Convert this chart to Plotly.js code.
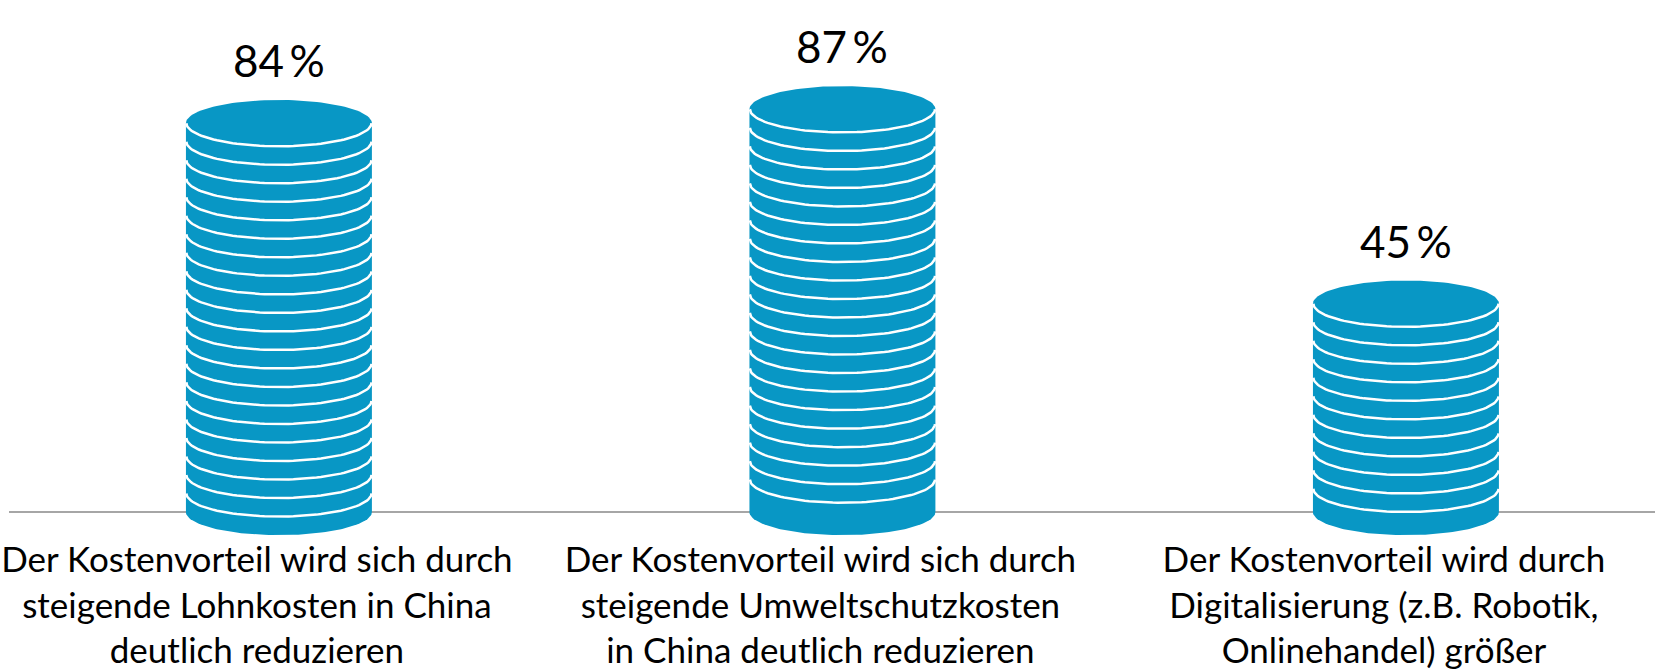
<!DOCTYPE html>
<html>
<head>
<meta charset="utf-8">
<script src="https://cdn.plot.ly/plotly-3.0.1.min.js"></script>
<style>
html, body { margin: 0; padding: 0; background: #fff; }
#chart { width: 1655px; height: 672px; }
</style>
</head>
<body>
<div id="chart"></div>
<script>
// values
const categories = [
  'Der Kostenvorteil wird sich durch<br>steigende Lohnkosten in China<br>deutlich reduzieren',
  'Der Kostenvorteil wird sich durch<br>steigende Umweltschutzkosten<br>in China deutlich reduzieren',
  'Der Kostenvorteil wird durch<br>Digitalisierung (z.B. Robotik,<br>Onlinehandel) größer'
]
const values = [84, 87, 45]
const valueLabels = ['84\u2009%', '87\u2009%', '45\u2009%']

const blue = '#0897c5'
const rx = 0.165      // half width of a stack, in x units
const ry = 5          // half height of an ellipse, in y units
const coin = 4        // thickness of one coin, in y units
const N = 60

const traces = []
values.forEach((v, i) => {
  // body of the stack: upper half of the top face, sides, lower half of the bottom face
  const xs = [], ys = []
  for (let k = 0; k <= N; k++) {
    const t = Math.PI - Math.PI * k / N
    xs.push(i + rx * Math.cos(t)); ys.push(v + ry * Math.sin(t))
  }
  for (let k = 0; k <= N; k++) {
    const t = Math.PI * k / N
    xs.push(i + rx * Math.cos(t)); ys.push(-ry * Math.sin(t))
  }
  traces.push({
    type: 'scatter', mode: 'lines', x: xs, y: ys,
    fill: 'toself', fillcolor: blue, line: {width: 0, color: blue},
    hoverinfo: 'skip'
  })
  // white edges between the coins
  const lx = [], ly = []
  for (let yc = v; yc >= coin * 0.9; yc -= coin) {
    for (let k = 0; k <= N; k++) {
      const t = Math.PI + Math.PI * k / N
      lx.push(i + rx * 0.995 * Math.cos(t)); ly.push(yc + ry * Math.sin(t))
    }
    lx.push(null); ly.push(null)
  }
  traces.push({
    type: 'scatter', mode: 'lines', x: lx, y: ly,
    line: {width: 2.5, color: '#ffffff'}, connectgaps: false,
    hoverinfo: 'skip'
  })
})

const annotations = values.map((v, i) => ({
  x: i, y: v, xref: 'x', yref: 'y',
  text: valueLabels[i], showarrow: false,
  yanchor: 'bottom', yshift: 35,
  font: {family: 'Lato, sans-serif', size: 44, color: '#000'}
}))

const layout = {
  width: 1655,
  height: 672,
  margin: {l: 9, r: 0, t: 0, b: 137},
  paper_bgcolor: '#fff',
  plot_bgcolor: '#fff',
  showlegend: false,
  hovermode: false,
  xaxis: {
    range: [-0.479, 2.442],
    tickvals: [0, 1, 2],
    ticktext: categories,
    ticks: '',
    showgrid: false,
    zeroline: false,
    showline: false,
    ticklabelshift: -22,
    ticklabelstandoff: 1,
    tickfont: {family: 'Lato, sans-serif', size: 35, color: '#000'},
    fixedrange: true
  },
  yaxis: {
    range: [-4.97, 110.6],
    showticklabels: false,
    ticks: '',
    showgrid: false,
    zeroline: true,
    zerolinecolor: '#a6a6a6',
    zerolinewidth: 1.5,
    fixedrange: true
  },
  annotations: annotations
}

Plotly.newPlot('chart', traces, layout, {displayModeBar: false, staticPlot: true})
</script>
</body>
</html>
